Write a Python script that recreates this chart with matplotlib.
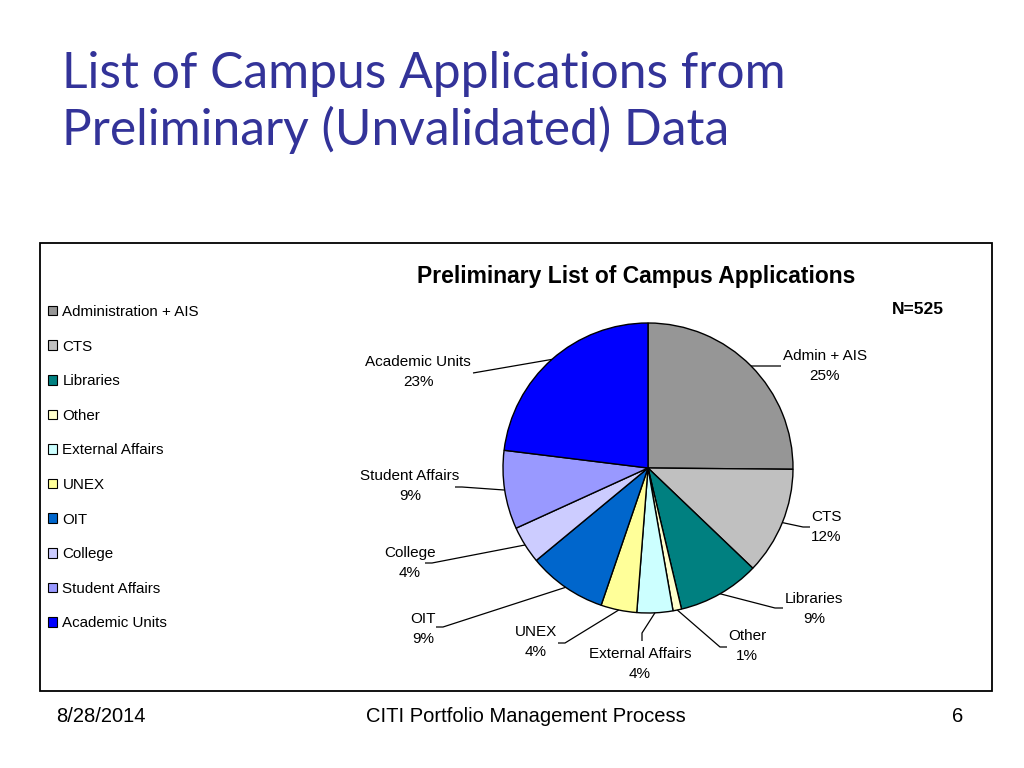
import numpy as np
import matplotlib
matplotlib.use("Agg")
import matplotlib.pyplot as plt
from matplotlib.patches import Rectangle, Patch

# ---- data ----
legend_labels = ["Administration + AIS", "CTS", "Libraries", "Other", "External Affairs",
                 "UNEX", "OIT", "College", "Student Affairs", "Academic Units"]
slice_labels = ["Admin + AIS", "CTS", "Libraries", "Other", "External Affairs",
                "UNEX", "OIT", "College", "Student Affairs", "Academic Units"]
counts = [132, 63, 48, 5, 21, 21, 46, 22, 46, 121]
colors = ["#969696", "#C0C0C0", "#008080", "#FFFFCC", "#CCFFFF",
          "#FFFF99", "#0066CC", "#CCCCFF", "#9999FF", "#0000FF"]
n_total = 525

# label layout (pixel positions): text centre, elbow point, stub end
label_text_px = [(825, 366), (826, 527), (814, 609), (747, 646), (640, 664),
                 (536, 642), (423, 629), (410, 563), (410, 486), (418, 372)]
label_elbow_px = [(752, 366), (803, 527), (775, 608), (720, 647), (642, 633),
                  (565, 643), (443, 627), (432, 563), (462, 487), (473, 373)]
label_stub_px = [(781, 366), (810, 527), (783, 608), (727, 647), (642, 641),
                 (558, 643), (436, 627), (425, 563), (455, 487), (473, 373)]

W, H = 1024, 768
fig = plt.figure(figsize=(W / 100, H / 100), dpi=100)
fig.patch.set_facecolor("white")

# slide title (two lines)
fig.text(62 / W, 1 - 88 / H, "List of Campus Applications from",
         fontsize=35.8, color="#333399", family="Lato", fontweight="normal",
         va="baseline", ha="left")
fig.text(62 / W, 1 - 145 / H, "Preliminary (Unvalidated) Data",
         fontsize=35.8, color="#333399", family="Lato", fontweight="normal",
         va="baseline", ha="left")

# chart box
fig.add_artist(Rectangle((40 / W, 1 - 691 / H), (992 - 40) / W, (691 - 243) / H,
                         transform=fig.transFigure, fill=False, edgecolor="black",
                         linewidth=1.3))

# pie axes: centre (648, 468), radius 145 px
cx, cy, r = 648, 468, 145
ax = fig.add_axes([(cx - r) / W, (H - cy - r) / H, 2 * r / W, 2 * r / H])
wedges, _ = ax.pie(counts, colors=colors, startangle=90, counterclock=False,
                   wedgeprops=dict(edgecolor="black", linewidth=1.0))
ax.set_xlim(-1, 1)
ax.set_ylim(-1, 1)
ax.set_aspect("equal")
ax.axis("off")


def px2d(p):
    return ((p[0] - cx) / r, (cy - p[1]) / r)


for i, w in enumerate(wedges):
    mid = np.deg2rad((w.theta1 + w.theta2) / 2)
    ex, ey = np.cos(mid), np.sin(mid)
    el = px2d(label_elbow_px[i])
    st = px2d(label_stub_px[i])
    ax.plot([ex, el[0], st[0]], [ey, el[1], st[1]], color="black", lw=0.9,
            clip_on=False, solid_capstyle="butt")
    pct = 100.0 * counts[i] / sum(counts)
    tp = px2d(label_text_px[i])
    ax.text(tp[0], tp[1], f"{slice_labels[i]}\n{pct:.0f}%", ha="center", va="center",
            fontsize=11, family="Liberation Sans", linespacing=1.6, clip_on=False)

# chart title and N
fig.text(636 / W, 1 - 276 / H, "Preliminary List of Campus Applications",
         fontsize=16.5, fontweight="bold", family="Liberation Sans", ha="center", va="center")
fig.text(918 / W, 1 - 309 / H, f"N={n_total}", fontsize=12.5, fontweight="bold",
         family="Liberation Sans", ha="center", va="center")

# legend
handles = [Patch(facecolor=c, edgecolor="black", linewidth=0.8) for c in colors]
leg = fig.legend(handles, legend_labels, loc="upper left",
                 bbox_to_anchor=(48 / W, 1 - 305 / H), frameon=False,
                 prop=dict(family="Liberation Sans", size=10.9),
                 handlelength=0.6, handleheight=0.6, handletextpad=0.35,
                 labelspacing=1.36, borderaxespad=0, borderpad=0)

# footer
fig.text(56 / W, 1 - 717 / H, "8/28/2014", fontsize=14.5, family="Liberation Sans",
         ha="left", va="center")
fig.text(526 / W, 1 - 717 / H, "CITI Portfolio Management Process", fontsize=14.5,
         family="Liberation Sans", ha="center", va="center")
fig.text(958 / W, 1 - 717 / H, "6", fontsize=14.5, family="Liberation Sans",
         ha="center", va="center")

fig.savefig("out.png", dpi=100)
